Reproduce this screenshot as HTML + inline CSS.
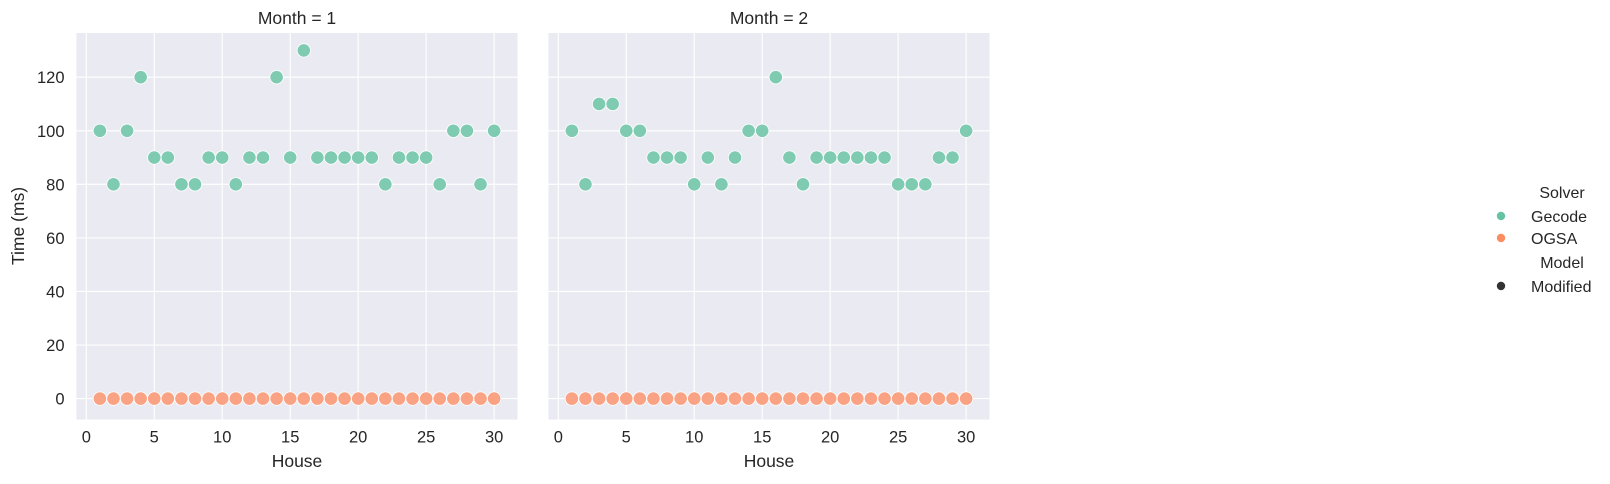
<!DOCTYPE html>
<html><head><meta charset="utf-8"><style>
body{margin:0;background:#fff;width:1610px;height:479px;overflow:hidden;font-family:"Liberation Sans",sans-serif}
text{font-family:"Liberation Sans",sans-serif;fill:#262626}
</style></head><body>
<svg id="chart" width="1610" height="479" xmlns="http://www.w3.org/2000/svg"></svg>
<script>
const houses=[1,2,3,4,5,6,7,8,9,10,11,12,13,14,15,16,17,18,19,20,21,22,23,24,25,26,27,28,29,30];
const gecodeMonth1=[100,80,100,120,90,90,80,80,90,90,80,90,90,120,90,130,90,90,90,90,90,80,90,90,90,80,100,100,80,100];
const gecodeMonth2=[100,80,110,110,100,100,90,90,90,80,90,80,90,100,100,120,90,80,90,90,90,90,90,90,80,80,80,90,90,100];
const ogsaMonth1=[0,0,0,0,0,0,0,0,0,0,0,0,0,0,0,0,0,0,0,0,0,0,0,0,0,0,0,0,0,0];
const ogsaMonth2=[0,0,0,0,0,0,0,0,0,0,0,0,0,0,0,0,0,0,0,0,0,0,0,0,0,0,0,0,0,0];
const xTicks=[0,5,10,15,20,25,30];
const yTicks=[0,20,40,60,80,100,120];
const panelTitles=["Month = 1","Month = 2"];

const NS="http://www.w3.org/2000/svg";
const svg=document.getElementById('chart');
function mk(tag,attrs,parent){const e=document.createElementNS(NS,tag);for(const k in attrs)e.setAttribute(k,attrs[k]);(parent||svg).appendChild(e);return e;}
const top_=33,bot=419.5,xmin=-0.72,xmax=31.72,ymin=-7.8,ymax=136.5;
const panels=[{left:76.5,w:441},{left:548.5,w:441}];
const yS=v=>bot-(v-ymin)/(ymax-ymin)*(bot-top_);
panels.forEach((p,i)=>{
  const xS=v=>p.left+(v-xmin)/(xmax-xmin)*p.w;
  const g=mk('g',{});
  
  
  const bg=mk('rect',{x:p.left,y:top_,width:p.w,height:bot-top_,fill:'#eaeaf2'},g);
  
  
  yTicks.forEach(t=>{
    const l=mk('line',{x1:p.left,x2:p.left+p.w,y1:yS(t),y2:yS(t),stroke:'#fff','stroke-width':1.1},g);
    
    
    if(i===0){const tx=mk('text',{x:p.left-12,y:yS(t)+6,'text-anchor':'end','font-size':16.5},g);tx.textContent=t;
      
      }
  });
  xTicks.forEach(t=>{
    const l=mk('line',{x1:xS(t),x2:xS(t),y1:top_,y2:bot,stroke:'#fff','stroke-width':1.1},g);
    
    
    const tx=mk('text',{x:xS(t),y:bot+23,'text-anchor':'middle','font-size':16.5},g);tx.textContent=t;
    
    
  });
  const ti=mk('text',{x:p.left+p.w/2,y:24,'text-anchor':'middle','font-size':17.5},g);ti.textContent=panelTitles[i];
  
  
  const xl=mk('text',{x:p.left+p.w/2,y:467,'text-anchor':'middle','font-size':17.5},g);xl.textContent='House';
  
  
  const series=[[i===0?gecodeMonth1:gecodeMonth2,'#7fcbb1','gecode'],[i===0?ogsaMonth1:ogsaMonth2,'#f9a284','ogsa']];
  series.forEach(([vals,col,nm])=>{
    vals.forEach((v,j)=>{
      const c=mk('circle',{cx:xS(houses[j]),cy:yS(v),r:6.7,fill:col,stroke:'#fff','stroke-width':0.8},g);
      
      
    });
  });
});
const yl=mk('text',{x:24,y:226,'text-anchor':'middle','font-size':17.5,transform:'rotate(-90 24 226)'});yl.textContent='Time (ms)';


const lg=mk('g',{});


const items=[['Solver',null,1562,198,'middle'],['Gecode','#66c2a5',1531,222,'start'],['OGSA','#fc8d62',1531,244,'start'],['Model',null,1562,268,'middle'],['Modified','#333',1531,292,'start']];
items.forEach(([t,col,x,y,a])=>{
  const tx=mk('text',{x:x,y:y,'font-size':16,'text-anchor':a},lg);tx.textContent=t;
  
  
  if(col){const c=mk('circle',{cx:1501,cy:y-6,r:4.2,fill:col},lg);
    
    }
});
</script>
</body></html>
